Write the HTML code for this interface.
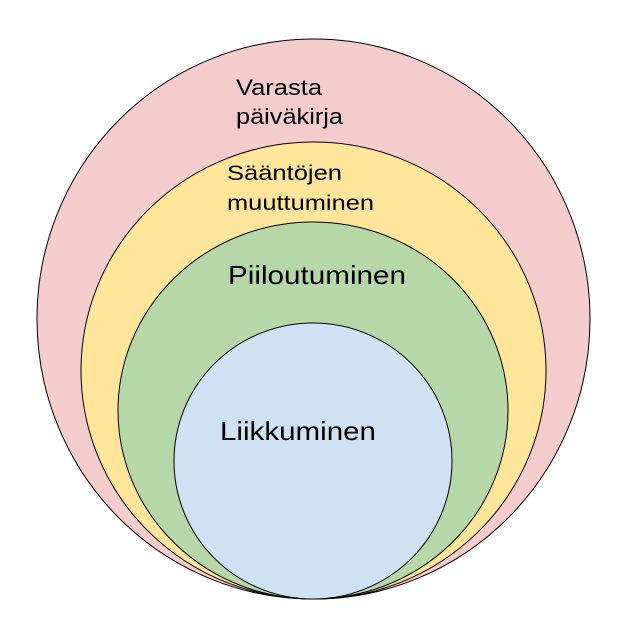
<!DOCTYPE html>
<html><head><meta charset="utf-8"><style>html,body{margin:0;padding:0;background:#fff}svg{display:block}</style></head>
<body>
<svg width="626" height="638" viewBox="0 0 626 638" xmlns="http://www.w3.org/2000/svg" font-family="Liberation Sans, Arial, sans-serif" fill="#000">
<ellipse cx="313.5" cy="319" rx="276.5" ry="280" fill="#f4cccc" stroke="#000" stroke-width="1"/>
<ellipse cx="313.5" cy="370.5" rx="232.5" ry="228.5" fill="#ffe599" stroke="#000" stroke-width="1"/>
<ellipse cx="313" cy="410.5" rx="195" ry="188.5" fill="#b6d7a8" stroke="#000" stroke-width="1"/>
<ellipse cx="313" cy="461" rx="139" ry="138" fill="#cfe2f3" stroke="#000" stroke-width="1"/>
<g fill="#000">
<text x="236" y="95" font-size="22" textLength="86" lengthAdjust="spacingAndGlyphs">Varasta</text>
<text x="236" y="124" font-size="22" textLength="107" lengthAdjust="spacingAndGlyphs">päiväkirja</text>
<text x="227" y="180" font-size="21" textLength="115" lengthAdjust="spacingAndGlyphs">Sääntöjen</text>
<text x="227" y="210" font-size="21" textLength="147" lengthAdjust="spacingAndGlyphs">muuttuminen</text>
<text x="228" y="284" font-size="26" textLength="178" lengthAdjust="spacingAndGlyphs">Piiloutuminen</text>
<text x="220" y="440" font-size="26" textLength="156" lengthAdjust="spacingAndGlyphs">Liikkuminen</text>
</g>
</svg>
</body></html>
